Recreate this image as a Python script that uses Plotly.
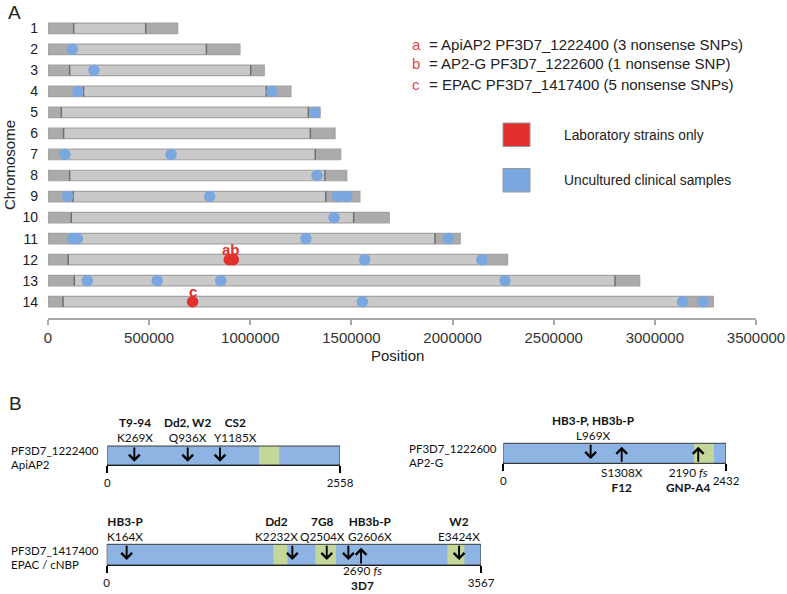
import plotly.graph_objects as go

W, H = 787, 594
def px(x):
    return x / W
def py(y):
    return 1 - y / H

# ---------------- Panel A data ----------------
chromosomes = list(range(1, 15))
chrom_labels = [str(c) for c in chromosomes]
chrom_length = [641000, 949000, 1069000, 1201000, 1345000, 1419000, 1447000,
                1477000, 1542000, 1687000, 2038000, 2272000, 2925000, 3289000]
left_subtel_end = [127000, 120000, 107000, 176000, 66000, 77000, 85000,
                   107000, 124000, 115000, 115000, 100000, 130000, 74000]
right_subtel_start = [483000, 783000, 1002000, 1079000, 1287000, 1297000, 1321000,
                      1369000, 1373000, 1511000, 1913000, 2150000, 2803000, 3134000]

clinical_chrom = [2, 3, 4, 4, 5, 7, 7, 8, 9, 9, 9, 9, 10, 11, 11, 11, 11,
                  12, 12, 13, 13, 13, 13, 14, 14, 14]
clinical_pos = [120000, 227000, 148000, 1107000, 1320000, 84000, 608000, 1330000,
                97000, 799000, 1430000, 1477000, 1414000, 122000, 145000, 1275000,
                1979000, 1566000, 2145000, 194000, 540000, 854000, 2259000,
                1554000, 3137000, 3239000]

lab_chrom = [12, 12, 14]
lab_pos = [896000, 916000, 715000]
lab_tag = ["a", "b", "c"]

gene_tag = ["a", "b", "c"]
gene_desc = ["= ApiAP2 PF3D7_1222400 (3 nonsense SNPs)",
             "= AP2-G PF3D7_1222600 (1 nonsense SNP)",
             "= EPAC PF3D7_1417400 (5 nonsense SNPs)"]
legend_labels = ["Laboratory strains only", "Uncultured clinical samples"]

x_tickvals = [0, 500000, 1000000, 1500000, 2000000, 2500000, 3000000, 3500000]
x_ticktext = [str(v) for v in x_tickvals]

# ---------------- Panel B data ----------------
apiap2_len = 2558
apiap2_domain_start = [1667]
apiap2_domain_end = [1890]
apiap2_mut_pos = [297, 884, 1239]
apiap2_label_pos = [308, 885, 1407]
apiap2_mut = ["K269X", "Q936X", "Y1185X"]
apiap2_strain = ["T9-94", "Dd2, W2", "CS2"]
apiap2_dir = ["down", "down", "down"]

ap2g_len = 2432
ap2g_domain_start = [2082]
ap2g_domain_end = [2300]
ap2g_mut_pos = [954, 1293, 2129]
ap2g_label_pos = [988, 1294, 2020]
ap2g_mut = ["L969X", "S1308X", "2190 <i>fs</i>"]
ap2g_strain = ["HB3-P, HB3b-P", "F12", "GNP-A4"]
ap2g_dir = ["down", "up", "up"]

epac_len = 3567
epac_domain_start = [1588, 1988, 3247]
epac_domain_end = [1722, 2186, 3409]
epac_mut_pos = [190, 1769, 2097, 2303, 2424, 3358]
epac_label_pos = [176, 1617, 2060, 2506, 2440, 3359]
epac_mut = ["K164X", "K2232X", "Q2504X", "G2606X", "2690 <i>fs</i>", "E3424X"]
epac_strain = ["HB3-P", "Dd2", "7G8", "HB3b-P", "3D7", "W2"]
epac_dir = ["down", "down", "down", "down", "up", "down"]

# ---------------- styles ----------------
LIGHT = "#C9C9C9"
DARK = "#ABABAB"
EDGE = "#A2A2A2"
SEP = "#6E6E6E"
BLUE_DOT = "#7BA7E1"
RED_DOT = "#E2302F"
PROT_BLUE = "#8EB4E3"
PROT_GREEN = "#C4D79B"
FA = "Liberation Sans, Arial, sans-serif"
FB = "Lato, Carlito, sans-serif"

fig = go.Figure()
shapes = []
annotations = []

def text(x, y, t, xref="paper", yref="paper", xanchor="center", size=14, family=FA,
         color="#222", angle=0, yanchor="middle"):
    annotations.append(dict(x=x, y=y, xref=xref, yref=yref, text=t, showarrow=False,
                            xanchor=xanchor, yanchor=yanchor, textangle=angle,
                            font=dict(family=family, size=size, color=color)))

# chromosome bars
hh = 0.25
for c, L, le, rs in zip(chromosomes, chrom_length, left_subtel_end, right_subtel_start):
    shapes.append(dict(type="rect", xref="x", yref="y", x0=0, x1=le, y0=c - hh, y1=c + hh,
                       fillcolor=DARK, line=dict(width=0), layer="below"))
    shapes.append(dict(type="rect", xref="x", yref="y", x0=le, x1=rs, y0=c - hh, y1=c + hh,
                       fillcolor=LIGHT, line=dict(width=0), layer="below"))
    shapes.append(dict(type="rect", xref="x", yref="y", x0=rs, x1=L, y0=c - hh, y1=c + hh,
                       fillcolor=DARK, line=dict(width=0), layer="below"))
    shapes.append(dict(type="rect", xref="x", yref="y", x0=0, x1=L, y0=c - hh, y1=c + hh,
                       fillcolor="rgba(0,0,0,0)", line=dict(width=1.2, color=EDGE), layer="below"))
    for xb in (le, rs):
        shapes.append(dict(type="line", xref="x", yref="y", x0=xb, x1=xb, y0=c - hh, y1=c + hh,
                           line=dict(width=1.5, color=SEP), layer="below"))

fig.add_trace(go.Scatter(x=clinical_pos, y=clinical_chrom, mode="markers",
                         marker=dict(size=11.5, color=BLUE_DOT, line=dict(width=0)),
                         cliponaxis=False, showlegend=False, hoverinfo="skip"))
fig.add_trace(go.Scatter(x=lab_pos, y=lab_chrom, mode="markers",
                         marker=dict(size=11.5, color=RED_DOT, line=dict(width=0)),
                         cliponaxis=False, showlegend=False, hoverinfo="skip"))

# letters above red dots (grouped per chromosome)
groups = {}
for c, p, t in zip(lab_chrom, lab_pos, lab_tag):
    groups.setdefault(c, []).append((p, t))
for c, items in groups.items():
    xm = sum(p for p, _ in items) / len(items)
    text(xm, c - 0.48, "<b>" + "".join(t for _, t in items) + "</b>", xref="x", yref="y",
         size=15, color=RED_DOT)

# panel labels and axis titles
text(px(14), py(13), "A", size=19)
text(px(15), py(403), "B", size=19)
text(px(9), py(165), "Chromosome", size=15, angle=-90)
text(px(397), py(355), "Position", size=15)

# legend text for a/b/c
for i, (t, d) in enumerate(zip(gene_tag, gene_desc)):
    yy = py(44 + 20 * i)
    text(px(416), yy, t, size=15, color="#E04848")
    text(px(427), yy, d, xanchor="left", size=15)

# colour legend
for i, (lab, col) in enumerate(zip(legend_labels, [RED_DOT, BLUE_DOT])):
    top = 123 + 45.5 * i
    shapes.append(dict(type="rect", xref="paper", yref="paper", x0=px(503), x1=px(530),
                       y0=py(top + 23.5), y1=py(top), fillcolor=col,
                       line=dict(width=1, color="#999")))
    text(px(562), py(top + 12), lab, xanchor="left", size=13.8)

# ---------------- Panel B drawing ----------------
proteins = [
    dict(ax="x2", L=apiap2_len, ds=apiap2_domain_start, de=apiap2_domain_end,
         mp=apiap2_mut_pos, lp=apiap2_label_pos, mut=apiap2_mut, st=apiap2_strain, dr=apiap2_dir,
         top=446, bot=465, dom=(107.3, 340), name=("PF3D7_1222400", "ApiAP2"), nx=9, ny=(450, 464)),
    dict(ax="x3", L=ap2g_len, ds=ap2g_domain_start, de=ap2g_domain_end,
         mp=ap2g_mut_pos, lp=ap2g_label_pos, mut=ap2g_mut, st=ap2g_strain, dr=ap2g_dir,
         top=443.3, bot=463.3, dom=(503.3, 726), name=("PF3D7_1222600", "AP2-G"), nx=406.7, ny=(448, 462)),
    dict(ax="x4", L=epac_len, ds=epac_domain_start, de=epac_domain_end,
         mp=epac_mut_pos, lp=epac_label_pos, mut=epac_mut, st=epac_strain, dr=epac_dir,
         top=544.3, bot=565, dom=(106.7, 481), name=("PF3D7_1417400", "EPAC / cNBP"), nx=9, ny=(550, 564)),
]

axis_layouts = {}
for pr in proteins:
    xr = pr["ax"]
    L = pr["L"]
    shapes.append(dict(type="rect", xref=xr, yref="paper", x0=0, x1=L, y0=py(pr["bot"]), y1=py(pr["top"]),
                       fillcolor=PROT_BLUE, line=dict(width=0)))
    for s, e in zip(pr["ds"], pr["de"]):
        shapes.append(dict(type="rect", xref=xr, yref="paper", x0=s, x1=e, y0=py(pr["bot"]), y1=py(pr["top"]),
                           fillcolor=PROT_GREEN, line=dict(width=0)))
    shapes.append(dict(type="rect", xref=xr, yref="paper", x0=0, x1=L, y0=py(pr["bot"]), y1=py(pr["top"]),
                       fillcolor="rgba(0,0,0,0)", line=dict(width=1, color="#3A3A3A")))
    for m, l, mu, st, d in zip(pr["mp"], pr["lp"], pr["mut"], pr["st"], pr["dr"]):
        if d == "down":
            tip = pr["top"] + 15.7
            annotations.append(dict(x=m, y=py(tip), xref=xr, yref="paper", text="", showarrow=True,
                                    ax=0, ay=-15.7, arrowhead=4, arrowsize=1.1, arrowwidth=1.9,
                                    arrowcolor="#000", standoff=0))
            text(l, py(pr["top"] - 15.6), "<b>" + st + "</b><br>" + mu, xref=xr, size=11.8,
                 family=FB, color="#111")
        else:
            tip = pr["top"] + 3.4
            annotations.append(dict(x=m, y=py(tip), xref=xr, yref="paper", text="", showarrow=True,
                                    ax=0, ay=pr["bot"] - tip, arrowhead=4, arrowsize=1.1, arrowwidth=1.9,
                                    arrowcolor="#000", standoff=0))
            yc = min(pr["bot"] + 17.0, H - 16.0)
            text(l, py(yc), mu + "<br><b>" + st + "</b>", xref=xr, size=11.8,
                 family=FB, color="#111")
    for nm, yy in zip(pr["name"], pr["ny"]):
        text(px(pr["nx"]), py(yy), nm, xanchor="left", size=11.5, family=FB, color="#111")
    key = "xaxis" + xr[1:]
    axis_layouts[key] = dict(domain=[px(pr["dom"][0]), px(pr["dom"][1])], range=[0, L],
                             anchor="free", position=py(pr["bot"]), showgrid=False, zeroline=False,
                             showline=True, linecolor="#000", linewidth=1.6, ticks="outside",
                             ticklen=7, tickwidth=1.6, tickcolor="#000", tickvals=[0, L],
                             ticktext=["0", str(L)], tickfont=dict(family=FB, size=11.5, color="#111"),
                             fixedrange=True, automargin=False)
    fig.add_trace(go.Scatter(x=[0], y=[0], xaxis=xr, yaxis="y", mode="markers",
                             marker=dict(opacity=0), showlegend=False, hoverinfo="skip"))

fig.update_layout(
    width=W, height=H, autosize=False,
    margin=dict(l=0, r=0, t=0, b=0, pad=0),
    paper_bgcolor="white", plot_bgcolor="rgba(0,0,0,0)",
    showlegend=False,
    xaxis=dict(domain=[px(48), px(756)], range=[0, 3500000], showgrid=False, zeroline=False,
               showline=True, linecolor="#A8A8A8", linewidth=1.5, ticks="outside", ticklen=5,
               tickcolor="#A8A8A8", tickwidth=1.5, tickvals=x_tickvals, ticktext=x_ticktext,
               tickfont=dict(family=FA, size=15, color="#333"), fixedrange=True, automargin=False),
    yaxis=dict(domain=[py(318), py(15)], range=[14.775, 0.368], showgrid=False, zeroline=False,
               showline=False, ticks="", tickvals=chromosomes, ticktext=chrom_labels,
               ticklabelstandoff=9, tickfont=dict(family=FA, size=14, color="#222"), fixedrange=True,
               automargin=False),
    shapes=shapes,
    annotations=annotations,
    **axis_layouts,
)

fig.write_html("out.html", config={"displayModeBar": False},
               post_script="document.body.style.margin='0';document.body.style.padding='0';")
